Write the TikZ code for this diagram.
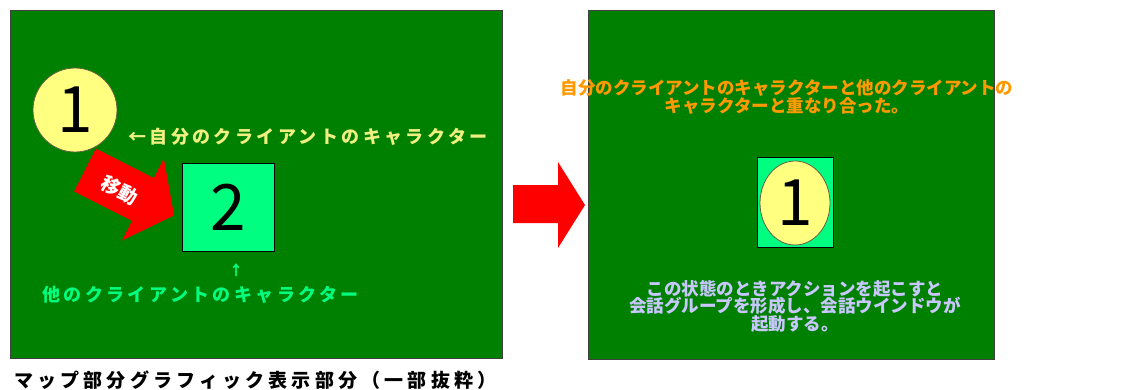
\documentclass[tikz,border=0pt]{standalone}
\usepackage{fontspec}
\usetikzlibrary{shapes.geometric}
\newfontfamily\jp{Noto Sans CJK JP}
\newfontfamily\numfont{Noto Sans CJK JP}
\definecolor{mapgreen}{HTML}{008000}
\definecolor{charyellow}{HTML}{FFFF80}
\definecolor{springgreen}{HTML}{00FF80}
\definecolor{labelyellow}{HTML}{F0F080}
\definecolor{labelorange}{HTML}{FF9900}
\definecolor{labellavender}{HTML}{C8C8FF}
\definecolor{movered}{HTML}{FF0000}
\tikzset{
  panel/.style={draw=black!75, fill=mapgreen, line width=1pt, inner sep=0pt, anchor=north west},
  charme/.style={fill=charyellow, draw=black!70!yellow, line width=0.8pt, inner sep=0pt},
  charother/.style={rectangle, fill=springgreen, draw=black, line width=0.8pt, inner sep=0pt},
  bignum/.style={font=\numfont\fontsize{64}{64}\selectfont, text=black},
  jptext/.style={font=\jp\bfseries\fontsize{#1}{#1}\selectfont, inner sep=0pt},
  blockarrow/.style={fill=movered}
}
\begin{document}
\begin{tikzpicture}[x=1pt,y=-1pt]
\useasboundingbox (0,0) rectangle (1136,389);
\fill[white] (0,0) rectangle (1136,389);
% left panel
\node[panel, minimum width=492pt, minimum height=348pt] (left) at (10,10) {};
% right panel
\node[panel, minimum width=406pt, minimum height=349pt] (right) at (588,10) {};
% move arrow (diagonal)
\begin{scope}[shift={(85,170)}, rotate=-27]
  \fill[blockarrow] (0,-24) -- (65,-24) -- (65,-46) -- (100,0) -- (65,46) -- (65,24) -- (0,24) -- cycle;
\end{scope}
\node[jptext=19, text=white, rotate=-29] (move) at (120,190) {移動};
% my character
\node[circle, charme, minimum size=84pt, bignum] (me) at (75,110) {1};
% other character
\node[charother, minimum width=92pt, minimum height=88pt, bignum] (other) at (228,207) {2};
% labels
\node[jptext=18, text=labelyellow, anchor=west] (melabel) at (128,137) {\addfontfeature{LetterSpace=19}←自分のクライアントのキャラクター};
\node[jptext=14, text=springgreen] (uparrow) at (236,270) {↑};
\node[jptext=18, text=springgreen, anchor=west] (otherlabel) at (42,295) {\addfontfeature{LetterSpace=19}他のクライアントのキャラクター};
\node[jptext=19, text=black, anchor=west] (caption) at (14,380) {\addfontfeature{LetterSpace=22}マップ部分グラフィック表示部分（一部抜粋）};
% transition arrow
\fill[blockarrow] (513,185) -- (558,185) -- (558,162) -- (585,205) -- (558,248) -- (558,223) -- (513,223) -- cycle;
% right panel content
\node[jptext=17.5, text=labelorange, align=center] (overlap) at (787,97) {%
  \fontsize{17.5}{25}\selectfont 自分のクライアントのキャラクターと他のクライアントの\\キャラクターと重なり合った。};
\node[charother, minimum width=76pt, minimum height=90pt] (otherR) at (795,202) {};
\node[ellipse, charme, minimum width=70pt, minimum height=84pt, bignum] (meR) at (795,203) {1};
\node[jptext=17.5, text=labellavender, align=center] (action) at (795,306) {%
  \fontsize{17.5}{23.5}\selectfont この状態のときアクションを起こすと\\会話グループを形成し、会話ウインドウが\\起動する。};
\end{tikzpicture}
\end{document}
